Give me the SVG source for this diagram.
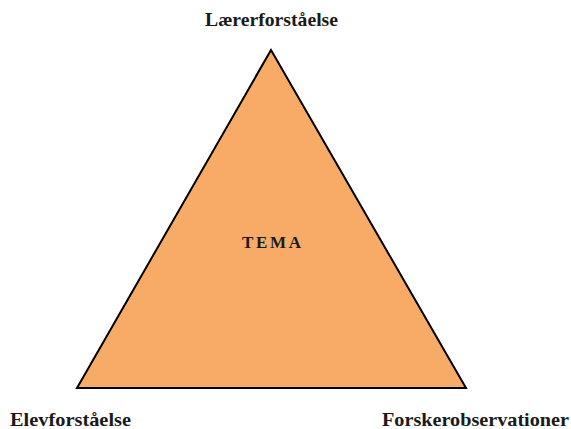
<svg xmlns="http://www.w3.org/2000/svg" width="571" height="429" viewBox="0 0 571 429">
<style>
.lbl{font-family:"Liberation Serif","DejaVu Serif",serif;font-weight:bold;font-size:19px;fill:#1a1a1a}
.tema{font-family:"Liberation Serif","DejaVu Serif",serif;font-weight:bold;font-size:17px;fill:#1a1a1a}
</style>
<rect width="571" height="429" fill="#ffffff"/>
<g id="triangle">
<polygon points="271,50 77,388 466,388" fill="#F7AB67" stroke="#000000" stroke-width="2" stroke-linejoin="miter"/>
<text class="tema" x="242" y="248" textLength="59" lengthAdjust="spacing">TEMA</text>
</g>
<g id="top"><text class="lbl" x="205" y="26" textLength="133" lengthAdjust="spacingAndGlyphs">Lærerforståelse</text></g>
<g id="left"><text class="lbl" x="10" y="426" textLength="121" lengthAdjust="spacingAndGlyphs">Elevforståelse</text></g>
<g id="right"><text class="lbl" x="382" y="426" textLength="187" lengthAdjust="spacingAndGlyphs">Forskerobservationer</text></g>
</svg>
